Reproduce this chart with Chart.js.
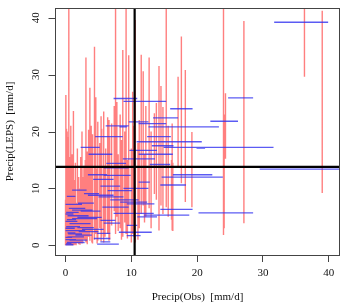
<!DOCTYPE html>
<html>
<head>
<meta charset="utf-8">
<script src="https://cdn.jsdelivr.net/npm/chart.js@4"></script>
<style>
  html, body { margin: 0; padding: 0; background: #fff; }
  #wrap { width: 343px; height: 306px; }
</style>
</head>
<body>
<div id="wrap"><canvas id="precipChart" width="343" height="306"></canvas></div>
<script>
// ===== Data =====
const xTicks = [0, 10, 20, 30, 40];
const yTicks = [0, 10, 20, 30, 40];
const xTitle = 'Precip(Obs)  [mm/d]';
const yTitle = 'Precip(LEPS)  [mm/d]';

// threshold lines
const obsThreshold = 10.5;
const lepsThreshold = 13.8;

// red: LEPS spread at each observed value
const redX = [36.3, 39.0, 27.1, 24.0, 24.3, 24.1, 19.2, 18.2, 17.6, 17.1, 16.2, 16.1, 15.3, 14.8, 14.2,
  13.8, 13.5, 12.7, 12.2, 11.8, 11.5, 11.2, 11.0, 10.6, 10.2, 9.6, 9.2, 9.0, 8.7, 8.3,
  7.8, 7.6, 7.4, 7.0, 6.7, 6.4, 6.1, 5.8, 5.5, 5.2, 4.9, 4.6, 4.4, 4.1, 3.9,
  3.7, 3.5, 3.3, 3.1, 2.8, 2.5, 2.3, 2.0, 1.8, 1.5, 1.2, 1.0, 0.8, 0.6, 0.5,
  0.4, 0.3, 0.25, 0.15, 0.05, 0.1, 0.2, 0.35, 0.7, 0.9, 1.1, 1.4, 1.6, 2.2, 2.6,
  3.0, 4.0, 4.8, 5.4, 6.0, 6.6, 8.0, 8.5, 9.4, 10.0, 10.4, 12.0, 13.0, 14.5, 15.6, 16.3,
  0.0, 0.1, 0.2, 0.3, 0.4, 0.5, 0.6, 0.7, 0.8, 0.9, 1.0, 0.15, 0.45, 0.55, 0.65,
  0.05, 0.25, 0.35, 0.75, 1.2, 1.3, 0.0, 0.1];
const redLow = [29.6, 9.2, 3.9, 1.8, 15.2, 3.0, 6.7, 7.6, 10.9, 13.8, 2.6, 4.5, 6.7, 5.5, 2.6,
  8.0, 9.0, 6.5, 5.0, 7.0, 5.5, 3.0, 1.0, 0.5, 2.0, 3.5, 2.0, 4.0, 1.5, 3.0,
  5.0, 2.0, 6.0, 3.5, 1.0, 2.0, 4.0, 0.5, 1.5, 3.0, 0.8, 2.0, 1.0, 0.3, 2.5,
  0.8, 1.5, 0.2, 0.5, 1.0, 0.3, 0.5, 0.2, 0.4, 0.1, 0.3, 0.1, 0.2, 0.0, 0.1,
  0.0, 0.0, 0.0, 0.0, 0.0, 0.0, 0.0, 0.0, 0.0, 0.1, 0.0, 0.2, 0.0, 0.1, 0.5,
  0.8, 0.5, 0.3, 0.7, 1.5, 0.8, 2.5, 1.0, 1.2, 0.5, 1.5, 4.0, 3.0, 7.0, 5.0, 2.5,
  0.0, 0.0, 0.0, 0.5, 0.0, 0.3, 1.0, 0.0, 0.5, 0.0, 0.2, 2.0, 1.0, 0.0, 0.4,
  3.0, 1.0, 2.0, 0.0, 0.5, 0.0, 0.0, 0.0];
const redHigh = [45, 41.2, 39.4, 45, 26.7, 23.0, 19.9, 30.8, 36.7, 29.6, 21.4, 15.0, 45, 24.3, 31.5,
  25.0, 23.2, 33.0, 24.5, 30.6, 33.5, 22.0, 18.0, 39.6, 27.0, 33.4, 45, 20.0, 34.3, 23.0,
  25.2, 45, 24.5, 21.4, 19.0, 22.5, 17.0, 23.5, 20.5, 18.0, 21.7, 26.0, 34.9, 19.5, 21.0,
  27.7, 20.3, 16.5, 33.0, 14.0, 20.0, 15.5, 12.0, 17.0, 14.5, 23.6, 16.0, 21.0, 12.5, 45,
  19.0, 15.0, 20.0, 17.5, 26.4, 11.0, 9.0, 13.0, 8.0, 10.5, 9.5, 11.5, 7.5, 10.0, 12.0,
  15.0, 12.0, 13.5, 22.7, 14.0, 22.0, 16.0, 18.5, 15.0, 17.0, 21.0, 16.0, 20.0, 28.0, 21.0, 14.5,
  8.0, 12.0, 14.5, 18.0, 9.5, 16.5, 13.0, 11.5, 19.5, 7.0, 14.0, 20.5, 17.0, 10.0, 15.5,
  18.5, 12.5, 16.0, 9.0, 13.5, 10.0, 6.0, 5.0];

// blue: observed spread at each LEPS value
const blueY = [39.2, 25.9, 25.8, 25.3, 24.0, 22.4, 21.8, 21.7, 21.4, 21.0, 20.8, 20.8, 19.1, 19.1, 18.2,
  17.5, 17.2, 17.2, 17.1, 16.7, 16.0, 16.0, 15.2, 14.4, 14.2, 13.6, 13.4, 12.4, 12.4, 12.0,
  12.3, 11.6, 11.1, 10.6, 10.4, 10.0, 9.7, 9.6, 9.1, 8.8, 8.5, 8.0, 7.6, 7.4, 7.3,
  6.7, 6.3, 6.0, 5.7, 5.6, 5.3, 5.0, 4.7, 4.4, 3.9, 3.5, 3.1, 2.8, 2.3, 2.1,
  1.7, 1.5, 1.2, 0.6, 0.2, 8.6, 7.2, 6.5, 5.8, 5.2, 4.2, 3.8, 3.3, 2.6, 2.0,
  1.0, 0.5, 0.1, 2.4, 1.8, 0.9, 4.9, 6.2, 3.0, 1.4, 0.3, 4.5, 5.5, 2.2];
const blueLow = [31.7, 24.7, 7.3, 8.8, 15.9, 13.3, 22.0, 9.6, 11.1, 6.1, 12.6, 8.2, 4.5, 12.4, 10.8,
  13.1, 2.3, 14.9, 19.9, 9.7, 11.1, 3.5, 8.7, 6.2, 12.8, 5.8, 29.5, 3.4, 16.3, 14.6,
  5.8, 4.2, 11.1, 14.4, 5.3, 8.8, 1.0, 6.4, 2.8, 3.4, 5.0, 6.8, 8.3, 1.9, 9.3,
  5.6, 14.4, 2.3, 20.2, 7.3, 11.9, 10.9, 1.0, 5.3, 5.8, 9.3, 1.8, 2.5, 8.1, 4.8,
  9.3, 0.3, 4.3, 5.3, 4.8, 0.2, 0.0, 0.5, 0.1, 0.3, 0.0, 0.6, 0.1, 0.0, 0.4,
  0.0, 0.2, 0.0, 2.0, 1.5, 0.6, 1.8, 1.0, 0.0, 0.0, 0.1, 0.2, 0.0, 0.3];
const blueHigh = [39.9, 28.5, 10.9, 15.3, 19.3, 17.1, 26.2, 12.6, 15.3, 9.6, 23.3, 9.3, 8.7, 16.0, 20.7,
  16.4, 5.2, 31.6, 21.2, 13.9, 16.3, 7.1, 13.6, 9.2, 15.9, 9.6, 42.0, 6.3, 22.3, 23.9,
  9.9, 7.3, 12.8, 18.3, 8.3, 12.6, 3.2, 10.1, 5.1, 7.3, 8.8, 11.1, 12.4, 4.3, 13.5,
  9.6, 19.3, 5.3, 28.5, 13.4, 18.8, 13.9, 4.8, 7.6, 8.3, 10.9, 4.3, 5.8, 13.1, 6.8,
  11.4, 2.8, 6.8, 6.8, 8.1, 1.5, 2.5, 3.0, 2.0, 3.5, 1.8, 3.8, 2.2, 3.0, 2.5,
  1.6, 2.9, 1.2, 5.0, 4.0, 3.3, 5.5, 4.1, 1.4, 1.0, 0.9, 1.6, 1.2, 1.5];

// ===== Build segment lists (null breaks the line) =====
function verticalSegs(xs, lo, hi) {
  const pts = [];
  xs.forEach((x, i) => {
    pts.push({ x: x, y: lo[i] }, { x: x, y: hi[i] }, { x: x, y: null });
  });
  return pts;
}
function horizontalSegs(ys, lo, hi) {
  const pts = [];
  ys.forEach((y, i) => {
    pts.push({ x: lo[i], y: y }, { x: hi[i], y: y }, { x: hi[i], y: null });
  });
  return pts;
}

const serif = '"Liberation Serif", "DejaVu Serif", serif';

// ===== Box, y ticks + rotated y labels =====
const rFrame = {
  id: 'rFrame',
  afterDraw(chart) {
    const { ctx, chartArea: a, scales } = chart;
    ctx.save();
    ctx.strokeStyle = '#444';
    ctx.lineWidth = 1;
    const L = Math.round(a.left) + 0.5;
    ctx.strokeRect(L, Math.round(a.top) + 0.5,
      Math.round(a.right - a.left) - 1, Math.round(a.bottom - a.top));
    ctx.fillStyle = '#111';
    ctx.font = '11px ' + serif;
    ctx.textAlign = 'center';
    ctx.textBaseline = 'middle';
    yTicks.forEach(v => {
      const py = Math.round(scales.y.getPixelForValue(v)) + 0.5;
      ctx.beginPath();
      ctx.moveTo(L - 7, py);
      ctx.lineTo(L, py);
      ctx.stroke();
      ctx.save();
      ctx.translate(36, scales.y.getPixelForValue(v));
      ctx.rotate(-Math.PI / 2);
      ctx.fillText(String(v), 0, 0);
      ctx.restore();
    });
    ctx.restore();
  }
};

new Chart(document.getElementById('precipChart'), {
  type: 'line',
  data: {
    datasets: [
      {
        data: [{ x: obsThreshold, y: -5 }, { x: obsThreshold, y: 50 }, { x: obsThreshold, y: null },
               { x: -5, y: lepsThreshold }, { x: 50, y: lepsThreshold }],
        borderColor: '#000',
        borderWidth: 2.2
      },
      {
        data: horizontalSegs(blueY, blueLow, blueHigh),
        borderColor: 'rgba(50,50,240,0.8)',
        borderWidth: 1.3
      },
      {
        data: verticalSegs(redX, redLow, redHigh),
        borderColor: 'rgba(255,0,0,0.5)',
        borderWidth: 1.4
      }
    ]
  },
  options: {
    responsive: false,
    animation: false,
    spanGaps: false,
    elements: { point: { radius: 0 }, line: { tension: 0 } },
    layout: { padding: { top: 8, right: 3, left: 0, bottom: 0 } },
    plugins: { legend: { display: false }, tooltip: { enabled: false } },
    scales: {
      x: {
        type: 'linear',
        min: -1.6,
        max: 41.7,
        afterBuildTicks: s => { s.ticks = xTicks.map(v => ({ value: v })); },
        afterFit: s => { s.height = 51; },
        grid: { drawOnChartArea: false, drawTicks: true, tickLength: 7, tickColor: '#444' },
        border: { display: false },
        ticks: { font: { family: serif, size: 11 }, color: '#111', padding: 5, maxRotation: 0 },
        title: { display: true, text: xTitle, font: { family: serif, size: 11 }, color: '#111',
                 padding: { top: 0, bottom: 2 } }
      },
      y: {
        type: 'linear',
        min: -1.7,
        max: 41.7,
        afterBuildTicks: s => { s.ticks = yTicks.map(v => ({ value: v })); },
        afterFit: s => { s.width = 55; },
        grid: { drawOnChartArea: false, drawTicks: false },
        border: { display: false },
        ticks: { display: false },
        title: { display: true, text: yTitle, font: { family: serif, size: 11 }, color: '#111',
                 padding: { top: 4, bottom: 0 } }
      }
    }
  },
  plugins: [rFrame]
});
</script>
</body>
</html>
